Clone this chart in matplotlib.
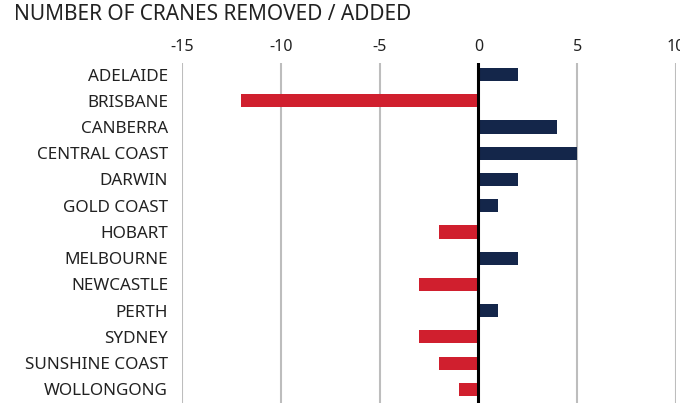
import matplotlib.pyplot as plt

cities = ["ADELAIDE", "BRISBANE", "CANBERRA", "CENTRAL COAST", "DARWIN",
          "GOLD COAST", "HOBART", "MELBOURNE", "NEWCASTLE", "PERTH",
          "SYDNEY", "SUNSHINE COAST", "WOLLONGONG"]
change = [2, -12, 4, 5, 2, 1, -2, 2, -3, 1, -3, -2, -1]
xticks = [-15, -10, -5, 0, 5, 10]

navy = "#14264a"
red = "#d01f2e"
txt = "#222222"

plt.rcParams['font.family'] = ['Noto Sans', 'DejaVu Sans']

fig = plt.figure(figsize=(6.8, 4.03), dpi=100)
ax = fig.add_axes([182 / 680, 0, (676 - 182) / 680, 1 - 63 / 403])

pos = list(range(len(cities)))
colors = [navy if v > 0 else red for v in change]
ax.barh(pos, change, height=0.5, color=colors, zorder=3)

ax.set_xlim(-15, 10)
ax.set_ylim(12.52, -0.44)
ax.set_xticks(xticks)
ax.set_xticklabels([str(t) for t in xticks])
ax.xaxis.tick_top()
ax.set_yticks(pos)
ax.set_yticklabels(cities)
ax.tick_params(axis='x', length=0, pad=6, labelsize=11.5, colors=txt)
ax.tick_params(axis='y', length=0, pad=10, labelsize=12.3, colors=txt)

ax.grid(axis='x', color="#bdbdbd", linewidth=1.5, zorder=0)
ax.axvline(0, color="black", linewidth=2.2, zorder=4)
for s in ax.spines.values():
    s.set_visible(False)

fig.text(14 / 680, 1 - 14 / 403, "NUMBER OF CRANES REMOVED / ADDED",
         fontsize=15, color=txt, ha='left', va='center')

fig.savefig("out.png", dpi=100)
